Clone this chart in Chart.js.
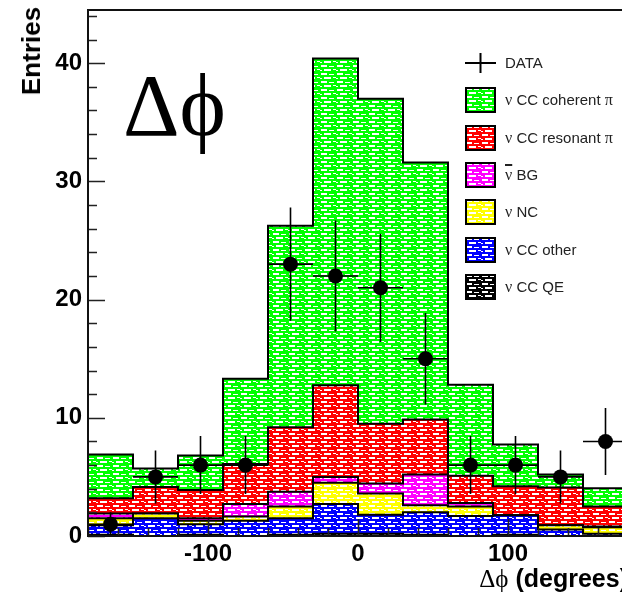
<!DOCTYPE html>
<html>
<head>
<meta charset="utf-8">
<script src="https://cdn.jsdelivr.net/npm/chart.js@4.4.1/dist/chart.umd.min.js"></script>
<style>
  html, body { margin: 0; padding: 0; background: #fff; width: 622px; height: 598px; overflow: hidden; }
  #wrap { position: relative; width: 680px; height: 598px; }
  #wrap canvas { position: absolute; left: 0; top: 0; }
  .lbl { position: absolute; color: #000; white-space: nowrap; }
  #ytitle { left: 16px; top: 7px; writing-mode: vertical-rl; transform: rotate(180deg);
            font: bold 26px "Liberation Sans", Arial, sans-serif; line-height: 30px; }
  #xtitle { right: 52px; top: 564px; font: bold 25px "Liberation Sans", Arial, sans-serif; }
  #xtitle .sym { font-weight: normal; font-family: "Liberation Serif", "DejaVu Serif", serif; }
  #big { left: 123px; top: 62px; font: 88px "Liberation Serif", "DejaVu Serif", serif; line-height: 88px; }
  #legend { position: absolute; left: 465px; top: 50px; font: 15px "Liberation Sans", Arial, sans-serif; color: #222; }
  .row { position: absolute; left: 0; height: 26px; width: 200px; }
  .row canvas { position: absolute; left: 0; top: 0; }
  .row span.t { position: absolute; left: 40px; top: 4px; line-height: 18px; }
  .nu { font-family: "Liberation Serif", "DejaVu Serif", serif; font-size: 16px; }
  .bar { text-decoration: overline; text-decoration-thickness: 2px; }
</style>
</head>
<body>
<div id="wrap">
  <canvas id="chart" width="680" height="598"></canvas>
  <div id="ytitle" class="lbl">Entries</div>
  <div id="xtitle" class="lbl"><span class="sym">Δϕ</span> (degrees)</div>
  <div id="big" class="lbl">Δϕ</div>
  <div id="legend"></div>
</div>
<script>
// 30 degree bins over the full azimuth range
const binEdges = [-180, -150, -120, -90, -60, -30, 0, 30, 60, 90, 120, 150, 180];

// observed events per bin and their errors
const dataCounts = [1, 5, 6, 6, 23, 22, 21, 15, 6, 6, 5, 8];
const dataErrors = [1.0, 2.24, 2.45, 2.45, 4.8, 4.69, 4.58, 3.87, 2.45, 2.45, 2.24, 2.83];

// simulated contributions, bottom of the stack first
const ccQE       = [0.1, 0, 0.1, 0, 0.1, 0.2, 0.2, 0.1, 0, 0.1, 0, 0];
const ccOther    = [0.8, 1.5, 0.9, 1.3, 1.4, 2.5, 1.6, 1.9, 1.7, 1.65, 0.55, 0.2];
const nuNC       = [0.6, 0.4, 0.3, 0.35, 1.0, 1.8, 1.8, 0.6, 0.8, 0, 0.35, 0.55];
const antiNuBG   = [0.4, 0, 0.2, 1.05, 1.25, 0.5, 0.85, 2.6, 0.3, 0, 0, 0.05];
const ccResonant = [1.3, 2.25, 2.4, 3.4, 5.45, 7.75, 5.05, 4.65, 2.3, 2.45, 3.2, 1.7];
const ccCoherent = [3.7, 1.55, 2.9, 7.2, 17.05, 27.65, 27.5, 21.75, 7.7, 3.55, 1.1, 1.55];

const xTicks = [-100, 0, 100];
const yTicks = [0, 10, 20, 30, 40];

const binCenters = binEdges.slice(0, -1).map((e, i) => (e + binEdges[i + 1]) / 2);

// brick-like white speckle on a solid colour, like the ROOT fill styles
function hatch(color) {
  const c = document.createElement("canvas");
  c.width = 16;
  c.height = 8;
  const g = c.getContext("2d");
  g.fillStyle = color;
  g.fillRect(0, 0, 16, 8);
  g.fillStyle = "#fff";
  [[1, 1, 6, 2], [9, 2, 5, 1], [4, 5, 7, 2], [13, 5, 3, 1], [0, 6, 2, 1]].forEach((r) => g.fillRect(...r));
  return g.createPattern(c, "repeat");
}

// one point per bin edge, the last bin repeated to close the step
function steps(vals) {
  const pts = vals.map((v, i) => ({ x: binEdges[i], y: v }));
  pts.push({ x: binEdges[binEdges.length - 1], y: vals[vals.length - 1] });
  return pts;
}

const layers = [
  { name: "CC QE", vals: ccQE, color: "#000000" },
  { name: "CC other", vals: ccOther, color: "#0000ff" },
  { name: "NC", vals: nuNC, color: "#ffff00" },
  { name: "BG", vals: antiNuBG, color: "#ff00ff" },
  { name: "CC resonant", vals: ccResonant, color: "#ff0000" },
  { name: "CC coherent", vals: ccCoherent, color: "#00ff00" },
];

const datasets = [
  {
    type: "scatter",
    label: "DATA",
    stack: "data",
    data: binCenters.map((c, i) => ({ x: c, y: dataCounts[i] })),
    pointRadius: 7.5,
    pointBackgroundColor: "#000",
    pointBorderWidth: 0,
  },
];
layers.forEach((l, i) => {
  datasets.push({
    type: "line",
    label: l.name,
    stack: "mc",
    data: steps(l.vals),
    stepped: "before",
    fill: i === 0 ? "origin" : "-1",
    backgroundColor: hatch(l.color),
    borderColor: "#000",
    borderWidth: 2,
    pointRadius: 0,
  });
});

// error bars, inward ticks and the frame
const framePlugin = {
  id: "frame",
  afterDatasetsDraw(chart) {
    const { ctx, chartArea: a, scales } = chart;
    const x = scales.x, y = scales.y;
    ctx.save();
    ctx.strokeStyle = "#000";
    ctx.lineWidth = 1.6;
    dataCounts.forEach((n, i) => {
      const px = x.getPixelForValue(binCenters[i]);
      const py = y.getPixelForValue(n);
      ctx.beginPath();
      ctx.moveTo(x.getPixelForValue(binEdges[i]), py);
      ctx.lineTo(x.getPixelForValue(binEdges[i + 1]), py);
      ctx.moveTo(px, y.getPixelForValue(n - dataErrors[i]));
      ctx.lineTo(px, y.getPixelForValue(n + dataErrors[i]));
      ctx.stroke();
    });

    ctx.lineWidth = 1.6;
    ctx.strokeStyle = "#222";
    ctx.beginPath();
    for (let v = 0; v <= 44; v += 2) {
      const py = Math.round(y.getPixelForValue(v)) + 0.5;
      ctx.moveTo(a.left, py);
      ctx.lineTo(a.left + (v % 10 === 0 ? 17 : 9), py);
    }
    for (let v = -180; v <= 180; v += 20) {
      const px = Math.round(x.getPixelForValue(v)) + 0.5;
      ctx.moveTo(px, a.bottom);
      ctx.lineTo(px, a.bottom - (v % 100 === 0 ? 17 : 8));
    }
    ctx.stroke();

    ctx.lineWidth = 2;
    ctx.strokeStyle = "#111";
    ctx.strokeRect(a.left, a.top, a.right - a.left, a.bottom - a.top);
    ctx.restore();
  },
};

const tickFont = { family: "Liberation Sans", size: 24, weight: "bold" };

new Chart(document.getElementById("chart"), {
  type: "line",
  data: { datasets },
  options: {
    responsive: false,
    animation: false,
    layout: { padding: { left: 0, top: 10, right: 52, bottom: 0 } },
    plugins: { legend: { display: false }, tooltip: { enabled: false } },
    scales: {
      x: {
        type: "linear",
        min: -180,
        max: 180,
        afterBuildTicks: (s) => { s.ticks = xTicks.map((v) => ({ value: v })); },
        afterFit: (s) => { s.height = 62; s.paddingLeft = 0; s.paddingRight = 0; },
        grid: { display: false, drawTicks: false },
        border: { display: false },
        ticks: { font: tickFont, color: "#000", padding: 4, maxRotation: 0, autoSkip: false },
      },
      y: {
        stacked: true,
        min: 0,
        max: 44.5,
        afterBuildTicks: (s) => { s.ticks = yTicks.map((v) => ({ value: v })); },
        afterFit: (s) => { s.width = 88; s.paddingTop = 0; s.paddingBottom = 0; },
        grid: { display: false, drawTicks: false },
        border: { display: false },
        ticks: { font: tickFont, color: "#000", padding: 6 },
      },
    },
  },
  plugins: [framePlugin],
});

// legend: data marker first, then the stack from top to bottom
const legend = document.getElementById("legend");
const nu = '<span class="nu">ν</span>';
const legendRows = [
  { html: "DATA" },
  { html: nu + " CC coherent " + '<span class="nu">π</span>', color: "#00ff00" },
  { html: nu + " CC resonant " + '<span class="nu">π</span>', color: "#ff0000" },
  { html: '<span class="nu bar">ν</span> BG', color: "#ff00ff" },
  { html: nu + " NC", color: "#ffff00" },
  { html: nu + " CC other", color: "#0000ff" },
  { html: nu + " CC QE", color: "#000000" },
];
legendRows.forEach((r, i) => {
  const row = document.createElement("div");
  row.className = "row";
  row.style.top = (i * 37.3) + "px";
  const c = document.createElement("canvas");
  c.width = 31;
  c.height = 26;
  const g = c.getContext("2d");
  if (r.color) {
    g.fillStyle = hatch(r.color);
    g.fillRect(0, 0, 31, 26);
    g.strokeStyle = "#000";
    g.lineWidth = 2;
    g.strokeRect(1, 1, 29, 24);
  } else {
    g.strokeStyle = "#000";
    g.lineWidth = 2;
    g.beginPath();
    g.moveTo(0, 13);
    g.lineTo(31, 13);
    g.moveTo(15.5, 3);
    g.lineTo(15.5, 23);
    g.stroke();
  }
  row.appendChild(c);
  const t = document.createElement("span");
  t.className = "t";
  t.innerHTML = r.html;
  row.appendChild(t);
  legend.appendChild(row);
});
</script>
</body>
</html>
